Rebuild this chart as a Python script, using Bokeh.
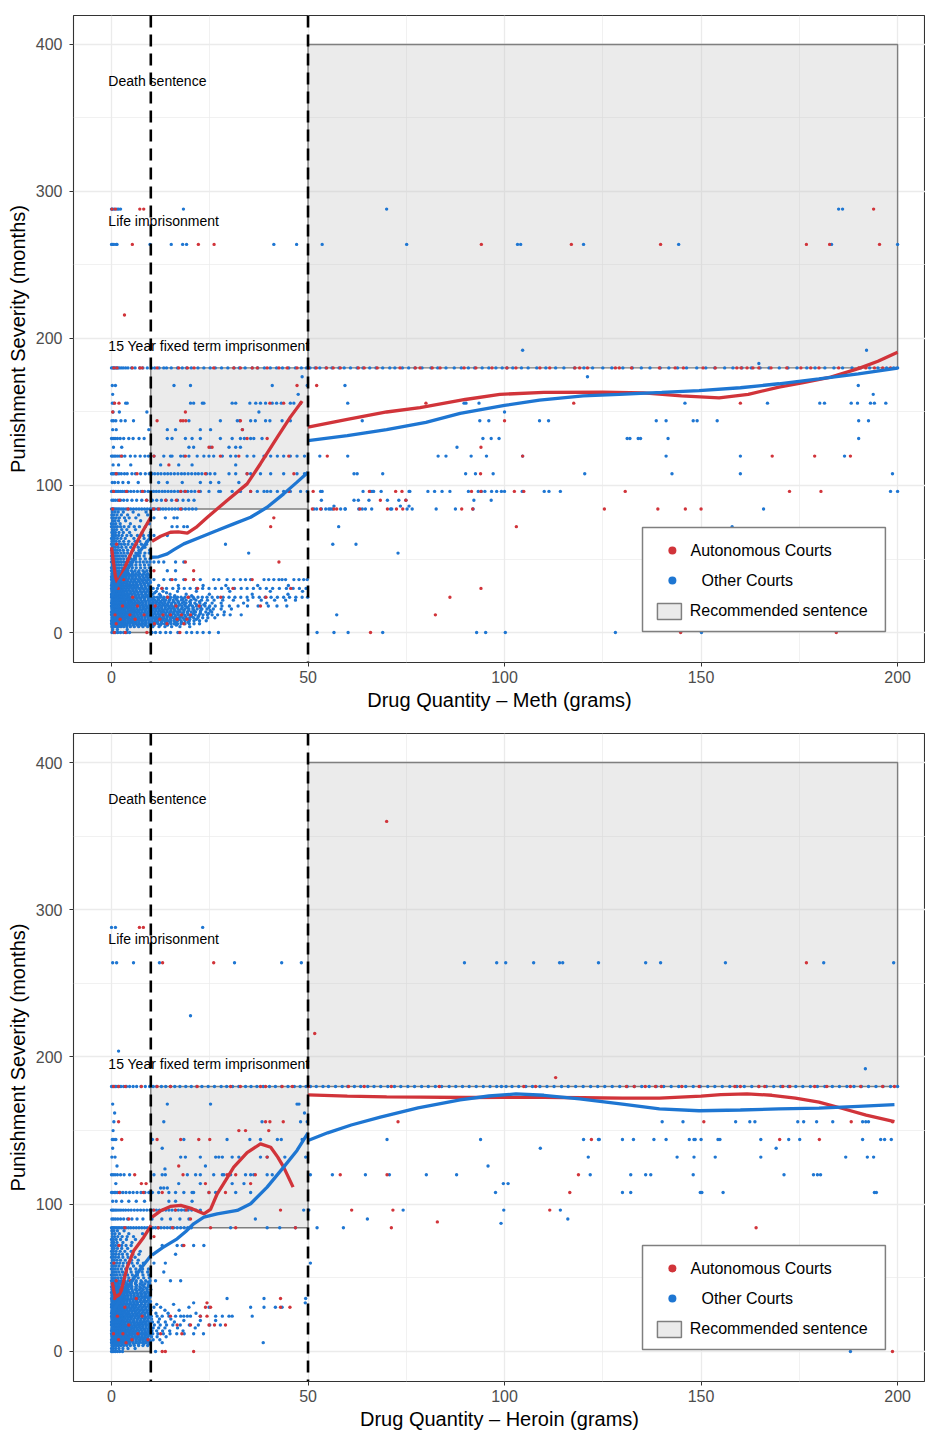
from bokeh.plotting import figure
from bokeh.layouts import column
from bokeh.models import Span, FixedTicker, Range1d
from bokeh.core.properties import value
from bokeh.embed import file_html
from bokeh.resources import INLINE

FONT = "Liberation Sans"
RED = "#D1343A"
BLUE = "#1E76D2"

# ---------------- axes / annotations ----------------
x_ticks = [0, 50, 100, 150, 200]
x_minor = [25, 75, 125, 175]
y_ticks = [0, 100, 200, 300, 400]
y_minor = [50, 150, 250, 350]

# recommended sentence regions (grams from-to, months from-to)
rec_x0 = [0, 10, 50]
rec_x1 = [10, 50, 200]
rec_y0 = [0, 84, 180]
rec_y1 = [84, 180, 400]

thresholds = [10, 50]

annot_text = ["Death sentence", "Life imprisonment", "15 Year fixed term imprisonment"]
annot_y = [375, 280, 195]

legend_labels = ["Autonomous Courts", "Other Courts", "Recommended sentence"]

# ---------------- METH : Other Courts (months, [grams]) ----------------
meth_other_180 = [0.0,0.3,0.6,0.9,1.2,1.6,2.0,2.5,3.0,3.6,4.2,5.1,6.0,7.2,8.0,9.1,10.2,11.0,12.1,13.3,14.0,15.2,16.8,18.0,19.1,20.3,22.0,23.5,25.1,26.4,28.0,29.6,31.2,32.5,34.0,35.8,37.2,38.9,40.4,42.0,43.5,45.1,46.8,48.3,49.6,50.5,51.8,53.0,54.6,56.1,57.9,59.2,60.8,62.5,64.0,65.7,67.3,69.0,70.8,72.1,74.0,75.6,77.2,79.0,81.3,83.0,85.1,87.2,89.0,90.8,92.4,94.3,96.0,97.8,99.4,100.6,102.1,104.3,106.0,108.2,110.5,113.0,115.1,117.8,120.2,122.4,125.0,127.3,130.1,132.5,134.8,137.0,139.6,141.8,144.0,146.3,148.9,151.2,153.5,156.0,158.1,160.4,162.8,165.0,167.3,169.9,172.1,174.4,176.9,179.0,181.5,183.8,186.0,188.4,190.6,192.9,195.0,197.2,199.0,200.0]
meth_other_upper = [
    (288, [0.0,0.3,0.7,1.4,1.8,2.3,18.3,70.0,185.0,186.0]),
    (264, [0.0,0.3,0.6,1.2,1.4,9.8,15.2,18.1,19.1,41.3,47.1,53.6,75.1,103.3,104.1,120.1,144.3,183.2,200.0]),
    (192, [104.6,192.1]),
    (183, [164.7]),
    (174, [121.1,48.5]),
    (168, [0.2,1.0,15.9,20.1,40.9,49.8,59.4,190.0]),
    (162, [0.3,47.5,193.8]),
    (156, [0.2,0.6,3.6,4.0,20.1,20.9,23.1,23.5,30.7,31.6,35.2,36.7,37.9,39.2,40.9,42.0,43.2,45.5,46.4,48.1,60.1,89.7,90.2,93.5,145.9,166.9,180.2,181.4,188.2,189.8,193.1,194.1,197.0]),
    (150, [0.4,2.0,9.0,37.5,100.0]),
    (144, [0.1,0.5,1.1,2.4,3.5,5.6,19.7,27.7,32.0,32.6,35.4,36.6,39.2,40.3,43.4,45.5,63.8,93.7,96.0,108.9,111.2,138.6,141.1,148.0,149.0,154.1,190.1,192.6]),
    (138, [0.3,1.2,9.5,14.2,16.3,22.6,25.2,33.3]),
    (132, [0.0,0.4,0.9,1.5,2.2,3.1,4.4,5.5,7.0,8.3,14.2,15.4,18.8,20.5,22.6,27.7,30.7,32.8,33.8,35.4,36.2,38.3,94.5,96.6,98.6,131.2,131.9,134.0,134.6,141.6,190.1]),
    (126, [0.5,2.6,19.7,20.9,25.2,29.9,31.6,32.8,87.9]),
    (120, [0.0,0.3,0.7,1.1,1.6,2.1,2.7,3.4,4.8,6.0,7.3,8.5,9.4,10.8,13.3,15.0,15.4,17.6,18.4,19.7,21.8,23.5,24.8,26.0,28.2,30.3,31.6,34.5,36.2,38.8,40.5,42.2,43.8,45.5,47.2,49.1,53.0,60.1,83.1,85.1,91.5,95.4,104.6,141.1,160.0,186.5]),
    (114, [0.4,1.8,4.9,12.5,17.1,20.5,31.6]),
    (108, [0.0,0.3,0.6,1.0,1.4,1.9,2.5,3.3,4.0,5.2,6.1,7.4,8.6,9.6,10.3,11.0,11.8,12.6,13.5,14.3,15.1,16.0,16.9,17.8,18.6,19.5,20.4,21.3,22.1,23.0,24.2,25.1,26.3,29.9,31.6,34.5,35.4,37.9,40.5,43.8,47.2,49.1,61.7,62.5,69.0,90.1,92.6,97.1,120.4,142.6,160.0,198.7]),
    (102, [0.2,0.8,1.7,2.9,4.3,6.8,12.0,14.2,18.0,22.6,25.2,27.3,32.4]),
    (96, [0.0,0.3,0.6,1.0,1.4,1.8,2.3,2.8,3.4,4.1,4.9,5.7,6.6,7.5,8.4,9.3,10.0,10.7,11.4,12.1,12.9,13.6,14.4,15.2,16.0,16.9,17.7,18.6,19.4,20.3,21.2,22.6,24.8,27.3,27.7,30.7,32.8,35.4,37.1,38.8,39.6,40.5,42.2,43.8,45.5,48.1,49.8,53.2,53.6,64.0,65.9,66.3,66.7,68.6,75.7,75.9,80.5,82.2,84.1,86.1,90.8,93.3,94.1,95.0,96.7,98.0,99.2,100.0,104.5,110.1,111.3,114.2,198.2,200.0]),
    (90, [0.1,0.5,1.0,1.6,2.3,3.1,4.0,5.2,6.4,7.7,9.0,10.4,11.5,12.7,13.9,15.3,16.8,18.2,19.6,21.0,53.4,61.7,62.8,65.5,70.2,73.1,74.9,92.2,96.6]),
    (86, [56.6,73.5,75.7]),
    (84, [0.0,0.3,0.6,0.9,1.3,1.7,2.1,2.6,3.1,3.7,4.3,4.9,5.6,6.3,7.0,7.7,8.4,9.1,9.8,10.4,11.0,11.7,12.4,13.1,13.8,14.6,15.4,16.2,17.0,17.9,18.8,19.7,20.6,21.5,51.5,52.2,53.4,54.5,55.3,55.7,56.2,58.3,59.4,59.5,62.9,63.8,64.6,66.2,71.0,71.3,75.2,76.5,82.6,87.5,92.0,165.9]),
]
meth_other_lower = [
    (82, [0.2,0.9,1.7,3.0,5.5,8.8]),
    (80, [0.1,0.6,1.4,2.5,4.1,6.9,9.2]),
    (78, [0.1,0.5,1.2,2.0,3.3,4.5,6.2,10.8,13.7,15.9,16.7]),
    (76, [0.3,0.9,1.8,3.6,7.4]),
    (74, [0.0,0.5,1.1,2.2,4.8,9.6]),
    (72, [0.0,0.4,0.9,1.5,2.3,3.2,4.4,5.8,7.1,8.6,15.4,16.7,18.4,19.3,57.8,157.9]),
    (70, [0.2,0.7,1.3,2.6,3.9,6.1]),
    (68, [0.1,0.5,1.0,1.9,3.0,4.6,7.8,9.9]),
    (66, [0.2,0.6,1.1,1.8,2.7,3.9,5.0,6.6,8.1,9.5,10.8,14.2]),
    (64, [0.0,0.4,0.8,1.5,2.4,3.5,5.7,8.3]),
    (62, [0.1,0.6,1.2,2.0,3.1,4.4,6.0,7.2,9.0]),
    (60, [0.0,0.3,0.7,1.2,1.8,2.5,3.3,4.2,5.3,6.4,7.6,8.9,29.0,56.3,62.2]),
    (58, [0.2,0.5,1.0,1.7,2.6,3.7,4.9,6.8,8.5]),
    (56, [0.0,0.4,0.9,1.4,2.1,3.0,4.1,5.5,7.0,9.7]),
    (54, [0.1,0.5,1.0,1.6,2.4,3.2,4.1,5.1,6.2,7.3,8.5,9.6,34.9,72.9]),
    (52, [0.0,0.3,0.8,1.3,2.0,2.8,3.6,4.6,5.8,7.1,8.3]),
    (50, [0.1,0.5,1.0,1.6,2.3,3.1,4.0,5.0,6.1,7.3,8.6,9.8]),
    (48, [0.0,0.3,0.6,1.0,1.4,1.9,2.5,3.1,3.8,4.6,5.4,6.3,7.2,8.1,9.0,9.8,10.8,12.0,13.3,16.3,18.4]),
    (46, [0.2,0.7,1.2,1.8,2.5,3.3,4.2,5.2,6.2,7.3,8.4,9.5]),
    (44, [0.0,0.4,0.9,1.4,2.0,2.7,3.5,4.4,5.3,6.3,7.4,8.5,9.6]),
    (42, [0.0,0.4,0.8,1.3,1.9,2.6,3.4,4.2,5.1,6.0,7.0,8.0,9.0,9.9,14.2,16.3]),
    (41, [0.3,1.1,2.0,3.0,4.1,5.4,6.8,8.4]),
    (40, [0.1,0.5,1.0,1.5,2.1,2.8,3.6,4.4,5.3,6.2,7.2,8.2,9.2]),
    (39, [0.2,0.6,1.1,1.7,2.4,3.2,4.0,4.9,5.8,6.8,7.8,8.8,9.7]),
    (38, [0.0,0.3,0.7,1.2,1.7,2.3,3.0,3.7,4.5,5.3,6.2,7.1,8.0,8.9,9.8]),
    (37, [0.1,0.5,1.0,1.5,2.1,2.8,3.6,4.4,5.3,6.2,7.2,8.2,9.2]),
    (36, [0.0,0.3,0.7,1.1,1.6,2.2,2.8,3.5,4.2,5.0,5.8,6.7,7.6,8.5,9.4,10.8,13.3,15.0,16.3,18.4,20.9,22.6,26.0,27.3,29.4,31.1,32.8,34.1,35.4,38.8,40.0,41.3,42.6,43.4,44.3,46.4,47.7,48.9,49.8]),
    (35, [0.2,0.7,1.2,1.8,2.5,3.3,4.1,5.0,5.9,6.9,7.9,8.9,9.8]),
    (34, [0.1,0.5,0.9,1.4,1.9,2.5,3.2,3.9,4.7,5.5,6.3,7.2,8.1,9.0,9.9]),
    (33, [0.1,0.5,1.0,1.6,2.3,3.0,3.8,4.6,5.5,6.4,7.4,8.4,9.4]),
    (32, [0.0,0.3,0.7,1.2,1.7,2.3,2.9,3.6,4.3,5.1,5.9,6.7,7.6,8.5,9.4,12.0,17.0,23.3,29.1,37.2,45.0]),
    (31, [0.2,0.6,1.1,1.7,2.4,3.1,3.9,4.8,5.7,6.6,7.6,8.6,9.6]),
    (30, [0.0,0.3,0.6,1.0,1.4,1.9,2.5,3.1,3.8,4.5,5.3,6.1,7.0,7.9,8.8,9.7,10.6,11.7,12.9,14.0,15.6,17.1,18.5,20.0,21.6,23.2,24.8,26.4,28.0,29.7,31.3,33.0,34.5,36.1,37.8,39.4,41.0,42.7,44.5,46.2,47.8,49.5]),
    (29, [0.1,0.5,1.0,1.6,2.2,2.9,3.7,4.5,5.4,6.3,7.3,8.3,9.3]),
    (28, [0.1,0.5,0.9,1.4,2.0,2.6,3.3,4.0,4.8,5.6,6.4,7.3,8.2,9.1,10.0,11.4,13.1,16.8,21.6,30.1,40.4,48.6]),
    (27, [0.2,0.7,1.2,1.8,2.5,3.2,4.0,4.9,5.8,6.7,7.7,8.7,9.7,11.0,14.0]),
    (26, [0.0,0.4,0.8,1.3,1.8,2.4,3.0,3.7,4.4,5.2,6.0,6.8,7.7,8.6,9.5,10.5,12.2,14.9,19.0,24.9,35.8,44.9]),
    (25, [0.1,0.5,1.0,1.5,2.1,2.8,3.5,4.3,5.2,6.1,7.0,8.0,9.0,9.9,12.5,16.1,20.4]),
    (24, [0.0,0.3,0.7,1.1,1.5,2.0,2.6,3.2,3.9,4.6,5.3,6.1,6.9,7.7,8.5,9.3,10.1,10.9,11.7,12.5,13.3,14.1,15.0,15.9,16.8,17.7,18.7,19.7,20.8,22.0,23.1,24.3,25.6,27.0,28.4,29.9,31.4,32.9,34.5,36.0,37.6,39.1,40.6,42.2,43.8,45.3,46.9,48.5,49.9]),
    (23, [0.2,0.6,1.1,1.7,2.3,3.0,3.8,4.6,5.5,6.4,7.4,8.4,9.4,10.6,11.9,13.3,14.9,16.4,18.2,21.0]),
    (22, [0.1,0.5,0.9,1.4,2.0,2.6,3.3,4.1,4.9,5.7,6.6,7.5,8.4,9.3,10.2,11.1,12.0,12.9,13.8,14.7,15.7,16.7,17.8,19.0,20.2,21.5,22.9,24.4,26.1,28.3,31.0,34.7,38.1,41.5,44.3,46.8]),
    (21, [0.1,0.5,1.0,1.5,2.1,2.8,3.5,4.3,5.1,6.0,6.9,7.8,8.7,9.6,10.6,11.5,12.5,13.5,14.6,15.8,17.0,18.4,19.9,22.4]),
    (20, [0.0,0.4,0.8,1.2,1.7,2.2,2.8,3.4,4.1,4.8,5.6,6.4,7.2,8.0,8.8,9.6,10.4,11.2,12.0,12.8,13.6,14.4,15.3,16.2,17.1,18.0,19.0,20.1,21.2,22.5,23.9,25.6,27.9,33.6,39.5]),
    (19, [0.2,0.6,1.1,1.6,2.2,2.9,3.6,4.4,5.2,6.0,6.9,7.8,8.7,9.6,10.5,11.4,12.3,13.2,14.2,15.2,16.3,17.4,18.6,20.0,21.6,23.5]),
    (18, [0.0,0.3,0.6,1.0,1.4,1.9,2.4,3.0,3.6,4.3,5.0,5.7,6.5,7.3,8.1,8.9,9.7,10.5,11.3,12.1,12.9,13.7,14.5,15.3,16.1,17.0,17.9,18.8,19.7,20.6,21.6,22.7,23.8,25.0,26.4,28.1,30.0,32.2,34.6,37.3,39.9,42.1,44.6]),
    (17, [0.1,0.5,1.0,1.5,2.0,2.6,3.3,4.0,4.8,5.6,6.4,7.3,8.2,9.1,10.0,10.9,11.8,12.7,13.7,14.7,15.7,16.8,18.0,19.3,20.8,22.6,24.8]),
    (16, [0.1,0.5,0.9,1.3,1.8,2.3,2.9,3.5,4.2,4.9,5.6,6.4,7.2,8.0,8.8,9.6,10.4,11.2,12.0,12.8,13.6,14.4,15.2,16.0,16.9,17.8,18.7,19.7,20.7,21.8,23.0,24.3,25.9,27.9,30.5]),
    (15, [0.2,0.6,1.1,1.6,2.2,2.8,3.5,4.3,5.1,5.9,6.8,7.7,8.6,9.5,10.4,11.3,12.2,13.1,14.1,15.1,16.1,17.2,18.4,19.6,21.0,22.7,25.1]),
    (14, [0.0,0.4,0.8,1.2,1.7,2.2,2.7,3.3,4.0,4.7,5.4,6.2,7.0,7.8,8.6,9.4,10.2,11.0,11.8,12.6,13.4,14.2,15.0,15.8,16.6,17.5,18.4,19.3,20.3,21.4,22.6,24.0,25.5,28.7]),
    (13, [0.1,0.5,1.0,1.5,2.1,2.7,3.4,4.1,4.9,5.7,6.5,7.4,8.3,9.2,10.1,11.0,11.9,12.8,13.8,14.8,15.8,16.9,18.1,19.4,20.9,22.6,24.7]),
    (12, [0.0,0.3,0.7,1.1,1.5,2.0,2.5,3.1,3.7,4.4,5.1,5.8,6.6,7.4,8.2,9.0,9.8,10.6,11.4,12.2,13.0,13.8,14.6,15.4,16.2,17.0,17.8,18.6,19.5,20.4,21.3,22.3,23.3,24.4,25.6,27.0,28.6,30.2,33.0,57.3]),
    (11, [0.2,0.6,1.1,1.6,2.2,2.9,3.6,4.3,5.1,5.9,6.8,7.7,8.6,9.5,10.4,11.3,12.2,13.2,14.2,15.2,16.3,17.5,18.8,20.3,22.1]),
    (10, [0.1,0.5,0.9,1.4,1.9,2.5,3.1,3.8,4.5,5.3,6.1,6.9,7.7,8.5,9.3,10.1,10.9,11.7,12.5,13.3,14.1,14.9,15.7,16.5,17.3,18.1,19.0,19.9,20.9,22.0,23.2,24.5,26.3]),
    (9, [0.2,0.6,1.0,1.5,2.1,2.7,3.4,4.2,5.0,5.8,6.7,7.6,8.5,9.4,10.3,11.2,12.1,13.0,14.0,15.0,16.1,17.2,18.5,19.9,21.6]),
    (8, [0.0,0.4,0.8,1.2,1.7,2.2,2.8,3.4,4.1,4.8,5.5,6.3,7.1,7.9,8.7,9.5,10.3,11.1,11.9,12.7,13.5,14.3,15.1,15.9,16.8,17.7,18.7,19.8,21.0,22.4,24.1]),
    (7, [0.1,0.5,1.0,1.5,2.1,2.8,3.5,4.3,5.1,6.0,6.9,7.8,8.7,9.6,10.6,11.6,12.7,13.8,15.0,16.3,17.8,19.5]),
    (6, [0.0,0.3,0.7,1.1,1.6,2.1,2.7,3.3,4.0,4.7,5.5,6.3,7.1,7.9,8.7,9.5,10.3,11.1,11.9,12.7,13.5,14.3,15.1,15.9,16.8,17.7,18.7,19.8,21.0,22.4]),
    (5, [0.2,0.6,1.1,1.7,2.3,3.0,3.8,4.7,5.6,6.6,7.6,8.6,9.6,10.8,12.4,14.2,16.5]),
    (4, [0.1,0.4,0.8,1.3,1.8,2.4,3.1,3.9,4.8,5.8,6.9,8.0,9.2,10.5,12.1,13.6,15.3,17.4,19.9]),
    (2, [0.3,1.5,4.0]),
    (0, [0.1,0.5,1.0,1.6,2.3,3.1,3.9,4.6,10.3,11.2,12.4,13.8,15.0,16.9,19.1,20.4,21.8,23.3,24.9,27.2,52.3,56.6,60.2,69.0,92.9,95.2,100.2,128.2,150.1]),
]

# ---------------- METH : Autonomous Courts ----------------
meth_auto_180 = [0.6,1.4,5.3,7.2,7.8,11.6,17.1,19.3,21.0,26.0,31.1,32.8,35.8,37.1,39.6,42.6,44.7,47.2,50.1,52.1,54.7,56.4,58.2,62.8,64.3,67.6,73.4,77.3,78.5,81.6,83.6,89.7,92.7,96.8,100.6,102.9,109.0,111.5,117.9,119.1,121.1,128.2,129.2,132.3,139.4,143.4,145.5,150.5,153.6,159.1,160.2,161.7,163.2,164.7,167.8,171.8,175.4,177.9,180.0,185.0,190.1,191.9,194.1,196.2,198.2]
meth_auto_rows = [
    (288, [0.1,1.0,7.2,8.2,193.9]),
    (264, [5.3,22.1,26.1,94.1,117.0,139.7,176.8,182.7,195.4]),
    (216, [3.3]),
    (168, [47.2,52.2]),
    (156, [0.8,1.9,40.3,43.8,48.1,80.0,117.6,160.0]),
    (150, [0.3,18.8]),
    (144, [11.6,17.6,18.2,18.9,32.8,100.0]),
    (138, [33.3]),
    (132, [34.5,39.6]),
    (126, [24.8,25.6,94.0]),
    (120, [2.5,10.8,18.8,27.7,32.4,39.2,45.1,54.9,104.6,168.1,178.9,188.0]),
    (114, [14.6]),
    (108, [1.2,6.5,23.9,34.5,46.4,93.9]),
    (96, [0.5,3.8,7.9,17.6,18.8,22.2,35.4,45.1,51.3,65.6,72.3,73.9,91.6,94.0,102.5,104.9,130.7,172.5,180.5]),
    (90, [2.0,8.9,13.8,16.5,68.4,74.9]),
    (84, [0.3,4.2,10.7,12.0,17.6,51.1,53.2,56.6,57.3,63.2,70.2,72.5,74.1,89.1,91.9,125.4,139.0,146.0,150.0]),
    (78, [41.3]),
    (72, [40.5,103.0]),
    (60, [1.3]),
    (48, [0.4,18.8,42.6]),
    (42, [10.8,20.9]),
    (36, [3.1,15.4,18.8,20.9,35.8]),
    (30, [1.7,12.8,21.9,30.9,45.6,94.0]),
    (24, [5.4,14.3,19.5,27.8,39.3,86.1]),
    (18, [2.8,6.6,11.1,16.4,22.3,37.9]),
    (12, [0.9,4.7,8.3,13.1,15.0,17.8,20.1,82.4]),
    (9, [2.2,6.0,12.3,16.7,19.2]),
    (6, [1.2,10.9,14.1,18.4]),
    (0, [0.7,3.5,9.0,17.4,65.9,144.8,184.4]),
]

# ---------------- HEROIN : Other Courts ----------------
her_other_180 = [0.0,0.3,0.7,1.0,1.4,1.9,2.4,3.1,3.8,4.6,5.5,6.4,7.5,8.6,9.7,10.6,11.5,12.7,13.8,15.0,16.1,17.4,18.9,20.3,21.7,23.0,24.6,26.2,27.9,29.3,30.8,32.4,34.1,35.5,37.0,38.6,40.2,41.7,43.3,44.9,46.5,48.0,49.5,50.6,52.1,53.8,55.2,57.0,58.7,60.1,61.8,63.4,65.2,66.8,68.5,70.3,72.0,73.6,75.4,77.1,78.9,80.6,82.4,84.0,85.9,87.6,89.3,91.0,92.8,94.6,96.3,98.0,99.2,100.4,101.9,103.6,105.4,107.1,109.0,110.8,112.6,114.5,116.2,118.1,120.0,121.9,123.7,125.5,127.4,129.3,131.2,133.0,134.9,136.8,138.6,140.5,142.4,144.3,146.1,148.0,149.8,151.7,153.5,155.4,157.3,159.1,161.0,162.9,164.7,166.6,168.5,170.3,172.2,174.1,175.9,177.8,179.6,181.5,183.4,185.2,187.1,188.9,190.8,192.6,194.5,196.3,198.2,200.0]
her_other_upper = [
    (288, [0.0,1.0,23.2]),
    (264, [0.3,1.3,5.6,12.2,31.3,43.3,48.3,89.8,98.0,100.3,107.4,114.0,114.8,123.9,135.9,139.7,156.2,181.2,199.0]),
    (228, [20.1]),
    (204, [1.8]),
    (192, [191.8]),
    (168, [0.3,14.2,25.2,47.2,47.7]),
    (162, [0.8,49.1]),
    (156, [0.6,13.3,38.3,48.1,49.8,140.1,145.4,158.8,162.4,163.7,174.6,176.1,179.4,183.5,191.1,191.9,192.6]),
    (150, [0.4]),
    (144, [0.2,0.6,1.1,10.4,18.4,29.4,35.2,37.9,42.2,43.2,48.5,70.1,93.9,120.1,123.9,124.1,130.0,132.8,138.0,141.1,147.0,148.2,148.5,150.0,154.3,154.8,165.2,172.3,175.1,191.1,195.7,196.7,198.4]),
    (138, [0.3,12.9,109.1,169.1]),
    (132, [0.1,0.9,17.6,18.8,22.6,26.5,27.3,28.2,30.7,32.4,37.9,39.6,44.1,49.4,121.3,143.9,148.2,153.6,165.2,186.8,192.3,193.9]),
    (126, [1.4,23.9,95.8]),
    (124, [13.6]),
    (120, [0.0,0.4,0.9,1.5,2.3,3.2,4.6,10.8,12.9,13.7,19.3,21.4,22.6,26.0,28.2,28.6,30.3,34.1,35.4,36.2,39.6,40.9,50.6,56.2,64.6,70.7,80.1,87.8,121.8,132.1,135.9,137.2,148.0,171.1,178.6,179.6,180.4]),
    (114, [1.1,17.1,22.6,30.7,33.7,99.7,100.9]),
    (111, [12.5,13.3,14.2]),
    (108, [0.0,0.3,0.7,1.1,1.6,2.2,2.9,3.7,4.6,5.5,6.5,7.5,8.5,9.5,10.4,12.0,14.6,16.3,18.4,20.5,20.9,24.8,26.5,31.6,35.4,97.7,130.0,132.1,149.8,150.2,155.6,194.1,194.6]),
    (102, [0.3,1.2,2.6,4.4,6.3,8.4,14.6,16.3,20.5]),
    (96, [0.0,0.3,0.6,1.0,1.4,1.9,2.4,3.0,3.6,4.3,5.0,5.8,6.6,7.4,8.2,9.0,9.8,10.6,11.4,12.2,13.0,13.8,14.6,15.4,16.2,17.0,17.8,18.6,19.5,20.4,21.5,22.6,48.9,50.2,74.2,99.8,114.2]),
    (90, [0.1,0.5,1.0,1.6,2.3,3.1,4.1,5.2,6.5,8.0,10.3,12.8,15.0,17.4,19.7,36.6,65.1,116.1]),
    (87, [99.1]),
    (84, [0.0,0.3,0.6,0.9,1.3,1.7,2.1,2.6,3.1,3.7,4.3,4.9,5.6,6.3,7.0,7.7,8.4,9.1,9.8,10.5,11.2,11.9,12.6,13.4,14.2,15.0,15.8,16.7,17.6,18.5,19.4,20.3,30.3,39.6,42.8,46.8,52.3,59.0]),
]
her_other_lower = [
    (82, [0.1,0.6,1.5,3.2]),
    (80, [0.2,0.9,2.0,4.4,7.9]),
    (78, [0.2,0.8,1.6,2.7,4.0,5.6]),
    (76, [0.0,0.5,1.2,2.3,3.8,6.1]),
    (74, [0.1,0.6,1.4,2.9,5.2]),
    (72, [0.0,0.4,1.0,1.7,2.6,3.7,5.0,12.9,16.7,18.0,20.9,23.5]),
    (70, [0.2,0.7,1.5,2.6,4.1]),
    (68, [0.0,0.5,1.2,2.2,3.4,5.0,7.3]),
    (66, [0.1,0.5,1.1,1.9,2.8,4.0,5.4,7.0,16.3]),
    (64, [0.0,0.4,1.0,1.8,2.9,4.2,6.0]),
    (62, [0.2,0.7,1.4,2.3,3.5,5.1,6.8]),
    (60, [0.0,0.3,0.8,1.4,2.1,3.0,4.0,5.2,6.6,8.1,10.8,13.7,50.6]),
    (58, [0.1,0.5,1.1,1.9,2.9,4.1,5.6,7.3]),
    (56, [0.0,0.4,0.9,1.6,2.5,3.6,4.8,6.2,7.9,9.4]),
    (54, [0.2,0.6,1.2,1.9,2.8,3.8,5.0,6.3,7.8,9.2,13.3]),
    (52, [0.0,0.3,0.8,1.4,2.2,3.1,4.1,5.3,6.6,8.0,9.5]),
    (50, [0.1,0.5,1.0,1.7,2.5,3.4,4.4,5.5,6.8,8.2,9.6]),
    (48, [0.0,0.3,0.7,1.2,1.8,2.5,3.3,4.2,5.2,6.3,7.5,8.7,9.8,11.2,15.0,17.6]),
    (47, [0.2,0.8,1.5,2.4,3.5,4.8,6.2,7.8,9.3]),
    (46, [0.1,0.5,1.0,1.6,2.3,3.1,4.0,5.0,6.1,7.3,8.5,9.7]),
    (45, [0.3,0.9,1.7,2.7,3.8,5.0,6.4,7.9,9.4]),
    (44, [0.0,0.4,0.8,1.3,1.9,2.6,3.4,4.3,5.2,6.2,7.2,8.3,9.4]),
    (43, [0.2,0.7,1.3,2.1,3.0,4.0,5.1,6.3,7.6,8.9]),
    (42, [0.1,0.5,0.9,1.4,2.0,2.7,3.5,4.3,5.2,6.1,7.1,8.1,9.1,10.0]),
    (41, [0.3,0.8,1.5,2.3,3.2,4.2,5.3,6.5,7.7,9.0]),
    (40, [0.0,0.3,0.7,1.2,1.7,2.3,3.0,3.8,4.6,5.5,6.4,7.4,8.4,9.4]),
    (39, [0.2,0.6,1.1,1.7,2.4,3.2,4.0,4.9,5.8,6.8,7.8,8.8,9.7]),
    (38, [0.1,0.5,0.9,1.4,2.0,2.6,3.3,4.1,4.9,5.7,6.6,7.5,8.5,9.5]),
    (37, [0.2,0.7,1.2,1.8,2.5,3.3,4.1,5.0,5.9,6.9,7.9,8.9,9.8]),
    (36, [0.0,0.3,0.7,1.1,1.6,2.2,2.8,3.5,4.2,5.0,5.8,6.7,7.6,8.5,9.4,29.4,38.8,49.4]),
    (35, [0.1,0.5,1.0,1.6,2.3,3.0,3.8,4.6,5.5,6.4,7.4,8.4,9.4]),
    (34, [0.1,0.5,0.9,1.4,1.9,2.5,3.2,3.9,4.7,5.5,6.3,7.2,8.1,9.0,9.9]),
    (33, [0.2,0.6,1.1,1.7,2.4,3.1,3.9,4.8,5.7,6.6,7.6,8.6,9.6,20.9,49.3]),
    (32, [0.0,0.3,0.7,1.2,1.7,2.3,2.9,3.6,4.3,5.1,5.9,6.7,7.6,8.5,9.4,11.5,15.8]),
    (31, [0.1,0.5,1.0,1.6,2.2,2.9,3.7,4.5,5.4,6.3,7.3,8.3,9.3]),
    (30, [0.0,0.3,0.6,1.0,1.4,1.9,2.5,3.1,3.8,4.5,5.3,6.1,7.0,7.9,8.8,9.7,10.8,12.5,19.7,24.8,35.4,38.8,41.7,43.4]),
    (29, [0.2,0.7,1.2,1.8,2.5,3.2,4.0,4.9,5.8,6.7,7.7,8.7,9.7]),
    (28, [0.1,0.5,0.9,1.4,2.0,2.6,3.3,4.0,4.8,5.6,6.4,7.3,8.2,9.1,10.0,13.6,17.2]),
    (27, [0.1,0.5,1.0,1.5,2.1,2.8,3.5,4.3,5.2,6.1,7.0,8.0,9.0,9.9]),
    (26, [0.0,0.4,0.8,1.3,1.8,2.4,3.0,3.7,4.4,5.2,6.0,6.8,7.7,8.6,9.5,11.3,14.4,21.5]),
    (25, [0.2,0.6,1.1,1.7,2.3,3.0,3.8,4.6,5.5,6.4,7.4,8.4,9.4]),
    (24, [0.0,0.3,0.7,1.1,1.5,2.0,2.6,3.2,3.9,4.6,5.3,6.1,6.9,7.7,8.5,9.3,10.1,11.6,12.9,14.6,16.3,17.6,18.4,19.3,20.1,22.6,26.5,28.2,29.9,30.7,35.8]),
    (23, [0.1,0.5,1.0,1.5,2.1,2.8,3.5,4.3,5.1,6.0,6.9,7.8,8.7,9.6]),
    (22, [0.1,0.5,0.9,1.4,2.0,2.6,3.3,4.1,4.9,5.7,6.6,7.5,8.4,9.3,10.2,12.2,15.1]),
    (21, [0.2,0.6,1.1,1.7,2.4,3.1,3.9,4.7,5.6,6.5,7.4,8.3,9.2,18.4,22.6,26.5]),
    (20, [0.0,0.4,0.8,1.2,1.7,2.2,2.8,3.4,4.1,4.8,5.6,6.4,7.2,8.0,8.8,9.6,10.4,11.9,13.7,16.0]),
    (19, [0.1,0.5,1.0,1.5,2.1,2.7,3.4,4.2,5.0,5.9,6.8,7.7,8.6,9.5]),
    (18, [0.0,0.3,0.6,1.0,1.4,1.9,2.4,3.0,3.6,4.3,5.0,5.7,6.5,7.3,8.1,8.9,9.7,10.9,12.4,14.0,15.6,17.5,19.8,22.1,25.0,27.7]),
    (17, [0.2,0.6,1.1,1.6,2.2,2.9,3.6,4.4,5.2,6.1,7.0,7.9,8.8,9.7]),
    (16, [0.1,0.5,0.9,1.3,1.8,2.3,2.9,3.5,4.2,4.9,5.6,6.4,7.2,8.0,8.8,9.6,10.6,12.0,13.6,16.8,21.3]),
    (15, [0.1,0.5,1.0,1.5,2.1,2.7,3.4,4.1,4.9,5.7,6.6,7.5,8.4,9.3]),
    (14, [0.0,0.4,0.8,1.2,1.7,2.2,2.7,3.3,4.0,4.7,5.4,6.2,7.0,7.8,8.6,9.4,10.3,11.5,13.0,14.8,18.2]),
    (13, [0.2,0.6,1.1,1.6,2.2,2.9,3.6,4.4,5.2,6.0,6.9,7.8,8.7,9.6]),
    (12, [0.0,0.3,0.7,1.1,1.5,2.0,2.5,3.1,3.7,4.4,5.1,5.8,6.6,7.4,8.2,9.0,9.8,10.5,11.8,13.2,14.9,16.6,18.5,20.9,23.4]),
    (11, [0.1,0.5,1.0,1.5,2.1,2.8,3.5,4.3,5.1,6.0,6.9,7.8,8.7,9.6]),
    (10, [0.1,0.5,0.9,1.4,1.9,2.5,3.1,3.8,4.5,5.3,6.1,6.9,7.7,8.5,9.3,10.2,11.6,13.9]),
    (9, [0.2,0.6,1.1,1.7,2.3,3.0,3.8,4.6,5.5,6.4,7.3,8.2,9.1]),
    (8, [0.0,0.4,0.8,1.2,1.7,2.2,2.8,3.4,4.1,4.8,5.5,6.3,7.1,7.9,8.7,9.5,10.6,12.3]),
    (7, [0.1,0.5,1.0,1.6,2.2,2.9,3.7,4.5,5.4,6.3,7.2,8.1,9.0,9.9]),
    (6, [0.0,0.3,0.7,1.1,1.6,2.1,2.7,3.3,4.0,4.7,5.5,6.3,7.1,7.9,8.7,9.5,12.9,38.6]),
    (5, [0.2,0.6,1.2,1.9,2.7,3.6,4.6,5.7,6.9,8.2,9.5]),
    (4, [0.1,0.4,0.8,1.3,1.8,2.4,3.1,3.9,4.8,5.8,6.9,8.0,9.2]),
    (2, [0.0,0.5,1.1,1.9,2.9,4.2,6.0]),
    (0, [0.0,0.3,0.6,1.0,1.5,2.1,2.8,11.2,188.0]),
]

# ---------------- HEROIN : Autonomous Courts ----------------
her_auto_180 = [0.5,1.8,3.5,7.6,11.6,15.0,21.8,30.3,32.8,37.9,39.2,43.4,46.0,50.1,60.3,64.3,71.2,83.4,104.9,107.9,131.0,133.0,135.8,138.4,139.9,145.1,149.5,158.6,160.0,164.7,166.2,170.8,172.6,178.9,182.0,188.0,190.6,196.2,199.2]
her_auto_rows = [
    (360, [70.0]),
    (288, [7.1,8.1]),
    (264, [13.0,26.0,176.8]),
    (216, [51.7]),
    (186, [113.0]),
    (156, [1.8,39.2,40.3,43.7,72.9,150.7,188.2,198.7]),
    (150, [32.4,34.1,40.0]),
    (144, [2.6,11.6,17.6,22.2,25.0,122.1,170.0,180.1]),
    (132, [39.6]),
    (126, [17.1]),
    (120, [5.9,18.2,29.4,31.6,36.6,58.2,70.1,118.8]),
    (114, [7.6,8.8,23.9,35.4]),
    (108, [2.0,8.1,12.9,24.8,29.0,116.6]),
    (96, [10.8,16.3,19.0,43.0,61.1,71.6,111.5]),
    (90, [4.4,20.1]),
    (88, [82.9]),
    (84, [3.4,11.9,15.5,25.2,31.6,46.8,71.2,164.0]),
    (78, [10.8]),
    (72, [1.9,18.4]),
    (60, [0.6]),
    (48, [1.2,4.8]),
    (42, [2.4]),
    (36, [0.8,6.3,43.0]),
    (33, [24.3]),
    (30, [3.4,23.9,25.2,43.0,45.4]),
    (24, [1.5,7.8,15.0,22.6,24.3]),
    (18, [4.4,16.7,20.1,24.8,26.2,29.0]),
    (12, [0.5,2.9,6.7,12.5,17.9]),
    (8, [1.8,5.2,9.3]),
    (6, [3.7]),
    (0, [12.9,13.7,20.9,198.7]),
]

# ---------------- smoothed fits ----------------
meth_auto_fit = [
    ([0.0,0.5,1.0,1.5,2.2,3.6,5.3,7.8,10.0], [58,48,38,34,37,45.6,55.8,68.2,78.4]),
    ([10.3,12.5,15.0,17.0,19.3,21.5,24.4,29.4,34.5,37.9,42.2,45.5,48.5], [62,65.5,68.2,68.5,67.6,71.5,78.4,89.8,101.1,114.8,132.9,146.5,157.4]),
    ([50,60,70,78.5,90,98.8,110,125,135.3,145,154.6,162,169.8,176,183,190,195,200], [139.7,145,150,153,158.5,162,163.3,163.5,163,161,159.6,162,166.9,170,173.7,179.5,184.5,190.7]),
]
meth_other_fit = [
    ([0.0,1.0,2.0,4.0,6.0,8.0,10.0], [24,30,35,43,51,58,65]),
    ([10.3,12.0,14.2,16.0,18.4,22.6,27.0,31.1,35.4,39.6,43.8,47.2,50.0], [51.2,51.5,53.5,56.5,60.3,64.8,69.5,73.9,78.4,85.2,94.3,102.3,109]),
    ([50,60,70,80,88.7,100,108.9,120,129.2,140,149.5,160,169.8,180,190,200], [130.6,134,138,143,149,154.5,158,161,162,163.3,164.6,166.5,169.2,172.5,176,179.8]),
]
her_auto_fit = [
    ([0.2,0.6,1.0,2.3,3.0,4.0,5.7,8.2,10.1], [47,41,37,39.2,47,57.3,68.6,77.6,85.6]),
    ([10.3,12.5,15.0,17.6,20.5,23.5,25.2,26.9,29.0,31.1,34.5,37.9,40.5,42.3,43.8,46.2], [91.2,95.5,98.5,99.2,97,93.5,96.5,107.1,116,125.2,135,141,138.7,132,125.2,111.6]),
    ([50,60,70,78.5,90,100,110,120,130,139.4,150,155,161.7,168,174,180,186,192,199.2], [174.3,173.4,172.9,172.7,172.5,172.6,172.6,172.3,172,172,173.4,174.5,175,174,172,169.3,165,160.5,156.1]),
]
her_other_fit = [
    ([0.2,1.0,3.0,5.3,7.5,10.0], [26,30,39,48.2,56.5,65]),
    ([10.3,13.0,16.7,18.9,20.9,23.5,26.9,32.0,35.4,39.6,43.8,47.2,50.0], [65.5,70.5,76.5,81.5,86.7,91.2,93.5,95.8,100.3,111.6,125.2,136.5,148.5]),
    ([50,55,61,68.4,78,88.7,96,102.9,110,119.1,130,139.4,149.5,160,169.8,180,190,199.2], [143.3,148.5,153.8,159.2,165.5,170.8,173.5,174.9,174,171.5,168,164.7,163.5,164,164.7,165.2,166.5,167.6]),
]


def expand(rows):
    xs, ys = [], []
    for yv, xl in rows:
        xs.extend(xl)
        ys.extend([yv] * len(xl))
    return xs, ys


def make_panel(xlabel, other_rows, other_180, auto_rows, auto_180, auto_fit, other_fit,
               height, border_top, border_bottom, leg_top, leg_bot):
    p = figure(width=925, height=height, output_backend="svg", toolbar_location=None, tools="",
               x_range=Range1d(-9.669, 207.1), y_range=Range1d(-20.4, 419.7),
               min_border_left=73, min_border_right=0, min_border_top=border_top,
               min_border_bottom=border_bottom)
    p.background_fill_color = "white"
    p.border_fill_color = "white"
    p.outline_line_color = "#333333"
    p.outline_line_width = 1.1

    xt = FixedTicker(ticks=x_ticks, minor_ticks=x_minor)
    yt = FixedTicker(ticks=y_ticks, minor_ticks=y_minor)
    p.xaxis.ticker = xt
    p.yaxis.ticker = yt
    p.xgrid.ticker = xt
    p.ygrid.ticker = yt
    for g in (p.xgrid, p.ygrid):
        g.grid_line_color = "#EBEBEB"
        g.grid_line_width = 1.3
        g.minor_grid_line_color = "#EBEBEB"
        g.minor_grid_line_width = 0.7
    for ax in (p.xaxis, p.yaxis):
        ax.axis_line_color = None
        ax.major_tick_line_color = "#333333"
        ax.major_tick_line_width = 1
        ax.major_tick_in = 0
        ax.major_tick_out = 4
        ax.minor_tick_line_color = None
        ax.major_label_text_font = FONT
        ax.major_label_text_font_size = "16px"
        ax.major_label_text_color = "#4D4D4D"
        ax.axis_label_text_font = FONT
        ax.axis_label_text_font_size = "20px"
        ax.axis_label_text_font_style = "normal"
        ax.axis_label_text_color = "black"
    p.xaxis.axis_label = xlabel
    p.yaxis.axis_label = "Punishment Severity (months)"
    p.xaxis.major_label_standoff = 4
    p.xaxis.axis_label_standoff = 3
    p.yaxis.major_label_standoff = 7
    p.yaxis.axis_label_standoff = 4

    # recommended sentence regions
    p.quad(left=rec_x0, right=rec_x1, bottom=rec_y0, top=rec_y1,
           fill_color="#BDBDBD", fill_alpha=0.3, line_color="#7F7F7F", line_width=1.4)

    ox, oy = expand(other_rows + [(180, other_180)])
    ax_, ay_ = expand(auto_rows + [(180, auto_180)])
    p.scatter(x=ox, y=oy, size=3.4, color=BLUE, line_width=0)
    p.scatter(x=ax_, y=ay_, size=3.4, color=RED, line_width=0)

    for fx, fy in auto_fit:
        p.line(fx, fy, line_color=RED, line_width=3.3)
    for fx, fy in other_fit:
        p.line(fx, fy, line_color=BLUE, line_width=3.3)

    for t in thresholds:
        p.add_layout(Span(location=t, dimension="height", line_color="black",
                          line_width=2.6, line_dash="12 7"))

    p.text(x=[-0.8] * 3, y=annot_y, text=annot_text, text_font=value(FONT),
           text_font_size="14px", text_baseline="middle", text_align="left", text_color="black")

    # legend box (drawn inside the panel)
    p.quad(left=[135.1], right=[196.9], bottom=[leg_bot], top=[leg_top],
           fill_color="white", line_color="#7F7F7F", line_width=1.5)
    p.scatter(x=[142.7], y=[leg_top - 15.6], size=8, color=RED, line_width=0)
    p.scatter(x=[142.7], y=[leg_top - 36.0], size=8, color=BLUE, line_width=0)
    p.quad(left=[138.9], right=[145.0], bottom=[leg_top - 62.6], top=[leg_top - 51.7],
           fill_color="#EBEBEB", line_color="#7F7F7F", line_width=1.5)
    p.text(x=[147.3, 150.1, 147.1], y=[leg_top - 15.6, leg_top - 36.0, leg_top - 56.4],
           text=legend_labels, text_font=value(FONT), text_font_size="16px",
           text_baseline="middle", text_align="left", text_color="black")
    return p


p1 = make_panel("Drug Quantity \u2013 Meth (grams)", meth_other_upper + meth_other_lower, meth_other_180,
                meth_auto_rows, meth_auto_180, meth_auto_fit, meth_other_fit,
                height=725, border_top=15, border_bottom=63, leg_top=71.4, leg_bot=0.7)
p2 = make_panel("Drug Quantity \u2013 Heroin (grams)", her_other_upper + her_other_lower, her_other_180,
                her_auto_rows, her_auto_180, her_auto_fit, her_other_fit,
                height=707, border_top=8, border_bottom=51, leg_top=72.0, leg_bot=1.4)

layout = column(p1, p2, spacing=0)
open("out.html", "w").write(file_html(layout, INLINE))
